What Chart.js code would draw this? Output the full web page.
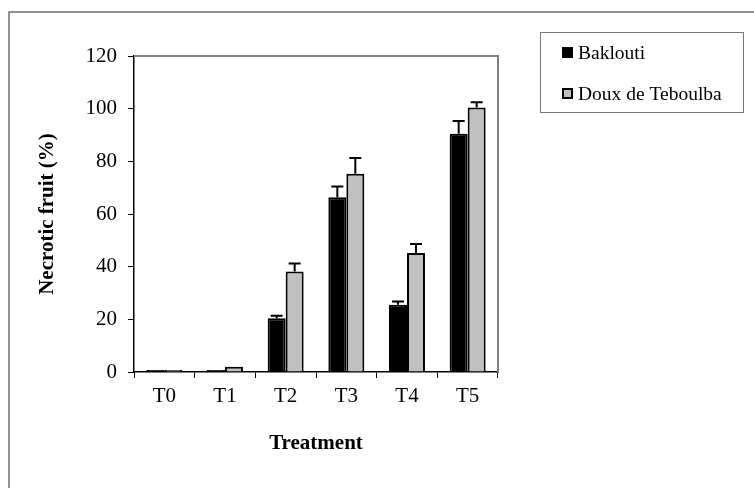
<!DOCTYPE html>
<html>
<head>
<meta charset="utf-8">
<script src="https://cdn.jsdelivr.net/npm/chart.js@4/dist/chart.umd.min.js"></script>
<style>
  html, body { margin: 0; padding: 0; background: #fff; }
</style>
</head>
<body>
<canvas id="chart" width="754" height="488"></canvas>
<script>
const categories = ['T0', 'T1', 'T2', 'T3', 'T4', 'T5'];
const baklouti = [0, 0, 20.4, 66.4, 25.5, 90.5];
const bakloutiErr = [0, 0, 1, 4, 1.3, 4.8];
const doux = [0, 2, 38.2, 75.3, 45.2, 100.4];
const douxErr = [0, 0, 3, 6, 3.4, 2];
const yTicks = [0, 20, 40, 60, 80, 100, 120];

const serif = "'Liberation Serif', 'Times New Roman', serif";

// error bars (upper half only, like the original)
const errorBars = {
    id: 'errorBars',
    afterDatasetsDraw(chart) {
        const ctx = chart.ctx;
        const y = chart.scales.y;
        ctx.save();
        ctx.strokeStyle = '#000';
        ctx.lineWidth = 2;
        chart.data.datasets.forEach((ds, i) => {
            chart.getDatasetMeta(i).data.forEach((bar, j) => {
                const e = ds.errors[j];
                if (!e) return;
                const top = y.getPixelForValue(ds.data[j] + e);
                ctx.beginPath();
                ctx.moveTo(bar.x, bar.y);
                ctx.lineTo(bar.x, top);
                ctx.moveTo(bar.x - 6, top);
                ctx.lineTo(bar.x + 6, top);
                ctx.stroke();
            });
        });
        ctx.restore();
    }
};

// outer frame, grey box round the plot, and the legend box
const decorations = {
    id: 'decorations',
    beforeDraw(chart) {
        const ctx = chart.ctx;
        ctx.save();
        ctx.strokeStyle = '#6e6e6e';
        ctx.lineWidth = 1.5;
        ctx.beginPath();
        ctx.moveTo(9, 500);
        ctx.lineTo(9, 12);
        ctx.lineTo(760, 12);
        ctx.stroke();
        ctx.restore();
    },
    afterDraw(chart) {
        const ctx = chart.ctx;
        const a = chart.chartArea;
        ctx.save();
        ctx.strokeStyle = '#808080';
        ctx.lineWidth = 2;
        ctx.beginPath();
        ctx.moveTo(a.left, a.top);
        ctx.lineTo(a.right, a.top);
        ctx.lineTo(a.right, a.bottom);
        ctx.stroke();

        // legend
        ctx.strokeStyle = '#777';
        ctx.lineWidth = 1;
        ctx.strokeRect(540.5, 32.5, 203, 80);
        ctx.font = '19.5px ' + serif;
        ctx.textBaseline = 'middle';
        ctx.fillStyle = '#000';
        chart.data.datasets.forEach((ds, i) => {
            const cy = 52.5 + i * 41;
            ctx.fillStyle = '#000';
            ctx.fillRect(562, cy - 5.5, 11, 11);
            ctx.fillStyle = ds.backgroundColor;
            ctx.fillRect(564, cy - 3.5, 7, 7);
            ctx.fillStyle = '#000';
            ctx.fillText(ds.label, 578, cy + 1);
        });
        ctx.restore();
    }
};

new Chart(document.getElementById('chart').getContext('2d'), {
    type: 'bar',
    data: {
        labels: categories,
        datasets: [
            {
                label: 'Baklouti',
                data: baklouti,
                errors: bakloutiErr,
                backgroundColor: '#000000',
                borderColor: '#000000',
                borderWidth: 2
            },
            {
                label: 'Doux de Teboulba',
                data: doux,
                errors: douxErr,
                backgroundColor: '#c0c0c0',
                borderColor: '#000000',
                borderWidth: 2
            }
        ]
    },
    options: {
        responsive: false,
        animation: false,
        categoryPercentage: 0.593,
        barPercentage: 1.0,
        minBarLength: 2,
        layout: { padding: { left: 0, top: 56, right: 256, bottom: 0 } },
        plugins: {
            legend: { display: false },
            tooltip: { enabled: false }
        },
        scales: {
            x: {
                afterFit(scale) { scale.height = 116; },
                grid: {
                    display: true,
                    drawOnChartArea: false,
                    drawTicks: true,
                    tickLength: 6,
                    color: '#000',
                    lineWidth: 1
                },
                border: { display: true, color: '#000', width: 1.5 },
                ticks: {
                    color: '#000',
                    padding: 6,
                    font: { family: serif, size: 21 }
                },
                title: {
                    display: true,
                    text: 'Treatment',
                    color: '#000',
                    font: { family: serif, size: 21, weight: 'bold' },
                    padding: { top: 0, bottom: 32 }
                }
            },
            y: {
                min: 0,
                max: 120,
                afterFit(scale) { scale.width = 134; },
                afterBuildTicks(scale) { scale.ticks = yTicks.map(v => ({ value: v })); },
                grid: {
                    display: true,
                    drawOnChartArea: false,
                    drawTicks: true,
                    tickLength: 6,
                    color: '#000',
                    lineWidth: 1
                },
                border: { display: true, color: '#000', width: 1.5 },
                ticks: {
                    color: '#000',
                    padding: 11,
                    font: { family: serif, size: 21 }
                },
                title: {
                    display: true,
                    text: 'Necrotic fruit (%)',
                    color: '#000',
                    font: { family: serif, size: 21, weight: 'bold' },
                    padding: { top: 35, bottom: 0 }
                }
            }
        }
    },
    plugins: [errorBars, decorations]
});
</script>
</body>
</html>
